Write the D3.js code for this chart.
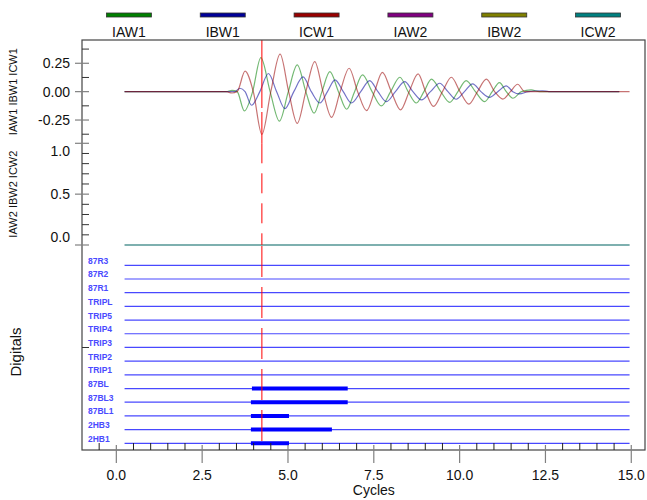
<!DOCTYPE html>
<html><head><meta charset="utf-8">
<script src="https://cdn.jsdelivr.net/npm/d3@7"></script>
<style>body{margin:0;background:#fff}svg{display:block;font-family:"Liberation Sans",Arial,sans-serif}</style>
</head><body><svg id="c" width="647" height="500"></svg>
<script>
// ---------- data ----------
const legendNames = ["IAW1","IBW1","ICW1","IAW2","IBW2","ICW2"];
const legendColors = ["#008000","#000099","#990000","#800080","#808000","#008080"];

// [cycles, value] read at peaks, troughs and zero crossings
const IAW1 = [[0.24,0],[3.2,0],[3.37,0.012],[3.52,0],[3.73,-0.17],[3.97,0],[4.21,0.30],[4.48,0],[4.75,-0.26],[5.01,0],[5.27,0.235],[5.52,0],[5.76,-0.19],[5.99,0],[6.22,0.176],[6.47,0],[6.71,-0.155],[6.94,0],[7.17,0.147],[7.45,0],[7.72,-0.126],[7.99,0],[8.26,0.127],[8.50,0],[8.74,-0.10],[8.96,0],[9.18,0.11],[9.45,0],[9.71,-0.094],[9.95,0],[10.19,0.097],[10.46,0],[10.73,-0.088],[10.95,0],[11.16,0.08],[11.36,0],[11.55,-0.058],[11.8,0],[12.08,0.015],[12.33,0],[14.65,0]];
const IBW1 = [[0.24,0],[3.45,0],[3.6,0.03],[3.75,0],[3.94,-0.12],[4.18,0],[4.43,0.16],[4.67,0],[4.91,-0.15],[5.17,0],[5.44,0.13],[5.68,0],[5.93,-0.10],[6.15,0],[6.37,0.103],[6.61,0],[6.85,-0.10],[7.12,0],[7.38,0.097],[7.62,0],[7.87,-0.088],[8.13,0],[8.40,0.088],[8.64,0],[8.89,-0.073],[9.15,0],[9.42,0.074],[9.66,0],[9.90,-0.067],[10.14,0],[10.38,0.068],[10.62,0],[10.87,-0.05],[11.11,0],[11.36,0.05],[11.55,0],[11.74,-0.02],[12.0,0],[12.41,0.008],[12.6,0],[14.65,0]];
const ICW1 = [[0.24,0],[3.2,0],[3.37,-0.012],[3.52,0],[3.75,0.18],[3.99,0],[4.24,-0.376],[4.50,0],[4.77,0.33],[5.02,0],[5.27,-0.28],[5.52,0],[5.78,0.265],[6.02,0],[6.27,-0.226],[6.52,0],[6.78,0.206],[7.03,0],[7.29,-0.168],[7.52,0],[7.75,0.17],[8.01,0],[8.28,-0.16],[8.53,0],[8.79,0.156],[9.01,0],[9.24,-0.13],[9.50,0],[9.76,0.127],[10.01,0],[10.27,-0.11],[10.52,0],[10.78,0.11],[11.02,0],[11.26,-0.065],[11.48,0],[11.69,0.065],[11.9,0],[14.95,0]];
const IAW2 = [[0.24,0],[14.95,0]];
const IBW2 = [[0.24,0],[14.95,0]];
const ICW2 = [[0.24,0],[14.95,0]];

const digitalNames = ["87R3","87R2","87R1","TRIPL","TRIP5","TRIP4","TRIP3","TRIP2","TRIP1","87BL","87BL3","87BL1","2HB3","2HB1"];
const digitalOn = [[],[],[],[],[],[],[],[],[],[[3.95,6.74]],[[3.92,6.74]],[[3.92,5.03]],[[3.92,6.28]],[[3.92,5.03]]];
const digitalSpan = [0.24,14.95];
const cursorT = 4.24;

const xMajor = [0,2.5,5,7.5,10,12.5,15];
const xLabels = ["0.0","2.5","5.0","7.5","10.0","12.5","15.0"];
const topTicks = [0.25,0,-0.25];
const topLabels = ["0.25","0.00","-0.25"];
const topMinor = [0.375,0.125,-0.125,-0.375];
const midTicks = [1,0.5,0];
const midLabels = ["1.0","0.5","0.0"];
const midMinor = [0.1,0.2,0.3,0.4,0.6,0.7,0.8,0.9];

// ---------- layout ----------
const L=82, R=645, T=40, B=450;
const topB=143.3, midB=245;
const svg=d3.select("#c");
const x=d3.scaleLinear().domain([-1,15.4]).range([L,R]);
const yTop=d3.scaleLinear().domain([-0.455,0.455]).range([topB,T]);
const yMid=d3.scaleLinear().domain([0,1]).range([midB,topB]);
const yDig=d3.scalePoint().domain(digitalNames).range([265.3,443.3]);

// legend
const lg=d3.scaleBand().domain(legendNames).range([L,R]);
legendNames.forEach((n,i)=>{
  const cx=lg(n)+lg.bandwidth()/2;
  svg.append("rect").attr("x",cx-22.5).attr("y",13).attr("width",45).attr("height",4)
    .attr("fill",legendColors[i]).attr("stroke","#333").attr("stroke-width",0.8);
  svg.append("text").attr("x",cx).attr("y",37).attr("text-anchor","middle")
    .attr("font-size",14).attr("fill","#111").text(n);
});

// waveforms
const lineTop=d3.line().x(d=>x(d[0])).y(d=>yTop(d[1])).curve(d3.curveMonotoneX);
const lineMid=d3.line().x(d=>x(d[0])).y(d=>yMid(d[1])).curve(d3.curveMonotoneX);
[[IAW1,0],[IBW1,1],[ICW1,2]].forEach(([s,i])=>{
  svg.append("path").attr("d",lineTop(s)).attr("fill","none")
    .attr("stroke",legendColors[i]).attr("stroke-opacity",0.55).attr("stroke-width",1.2);
});
[[IAW2,3,0.15],[IBW2,4,0.15],[ICW2,5,0.6]].forEach(([s,i,o])=>{
  svg.append("path").attr("d",lineMid(s)).attr("fill","none")
    .attr("stroke",legendColors[i]).attr("stroke-opacity",o).attr("stroke-width",1.5);
});

// digitals
digitalNames.forEach((n,i)=>{
  const y=yDig(n);
  svg.append("line").attr("x1",x(digitalSpan[0])).attr("x2",x(digitalSpan[1]))
    .attr("y1",y).attr("y2",y).attr("stroke","#4848ff").attr("stroke-width",1.2);
  digitalOn[i].forEach(iv=>{
    svg.append("line").attr("x1",x(iv[0])).attr("x2",x(iv[1]))
      .attr("y1",y).attr("y2",y).attr("stroke","#0000ff").attr("stroke-width",4);
  });
  svg.append("text").attr("x",88).attr("y",y-1.5).attr("font-size",8.5).attr("font-weight","bold")
    .attr("fill","#4a4aff").text(n);
});

// cursor
const cx=x(cursorT);
svg.append("line").attr("x1",cx).attr("x2",cx).attr("y1",T).attr("y2",topB)
  .attr("stroke","#ff0000").attr("stroke-width",1).attr("stroke-dasharray","68,4,40");
svg.append("line").attr("x1",cx).attr("x2",cx).attr("y1",topB).attr("y2",midB)
  .attr("stroke","#ff0000").attr("stroke-width",1).attr("stroke-dasharray","20,10");
svg.append("line").attr("x1",cx).attr("x2",cx).attr("y1",midB+1).attr("y2",B-5)
  .attr("stroke","#ff0000").attr("stroke-width",1).attr("stroke-dasharray","31,10");

// frame
svg.append("rect").attr("x",L).attr("y",T).attr("width",R-L).attr("height",B-T)
  .attr("fill","none").attr("stroke","#444").attr("stroke-width",1.2);

// left ticks
function majorY(y){svg.append("line").attr("x1",75).attr("x2",89).attr("y1",y).attr("y2",y).attr("stroke","#808080").attr("stroke-width",1.2);}
function minorY(y){svg.append("line").attr("x1",L).attr("x2",89).attr("y1",y).attr("y2",y).attr("stroke","#333").attr("stroke-width",1);}
function labelY(y,t){svg.append("text").attr("x",70).attr("y",y).attr("dy","0.36em").attr("text-anchor","end").attr("font-size",14).attr("fill","#111").text(t);}
topTicks.forEach((v,i)=>{majorY(yTop(v));labelY(yTop(v),topLabels[i]);});
topMinor.forEach(v=>minorY(yTop(v)));
midTicks.forEach((v,i)=>{
  const y=yMid(v); majorY(y);
  const off = v===1?8:(v===0?-8:0);
  labelY(y+off,midLabels[i]);
});
midMinor.forEach(v=>minorY(yMid(v)));
minorY((midB+B)/2);

// bottom ticks
d3.range(-0.5,15.01,0.5).forEach(t=>{
  if(xMajor.includes(t))return;
  svg.append("line").attr("x1",x(t)).attr("x2",x(t)).attr("y1",443).attr("y2",B).attr("stroke","#222").attr("stroke-width",1);
});
xMajor.forEach((t,i)=>{
  svg.append("line").attr("x1",x(t)).attr("x2",x(t)).attr("y1",445).attr("y2",463).attr("stroke","#808080").attr("stroke-width",1.2);
  svg.append("text").attr("x",x(t)).attr("y",480).attr("text-anchor","middle").attr("font-size",14).attr("fill","#111").text(xLabels[i]);
});
svg.append("text").attr("x",x(7.5)).attr("y",495).attr("text-anchor","middle").attr("font-size",14).attr("fill","#111").text("Cycles");

// axis titles
function vTitle(tx,ty,s,fs){svg.append("text").attr("transform",`translate(${tx},${ty}) rotate(-90)`).attr("text-anchor","middle").attr("font-size",fs).attr("fill","#111").text(s);}
vTitle(17,(T+topB)/2,"IAW1 IBW1 ICW1",11);
vTitle(17,(topB+midB)/2,"IAW2 IBW2 ICW2",11);
vTitle(21,352,"Digitals",15);
</script></body></html>
